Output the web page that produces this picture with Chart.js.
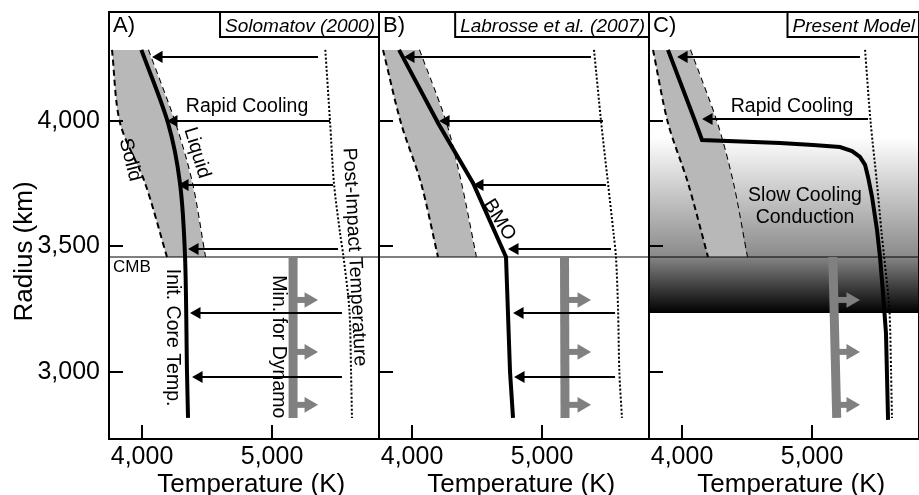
<!DOCTYPE html>
<html>
<head>
<meta charset="utf-8">
<title>Core cooling models</title>
<script src="https://cdn.jsdelivr.net/npm/chart.js@4.4.1/dist/chart.umd.min.js"></script>
<style>
  html, body { margin: 0; padding: 0; background: #fff; overflow: hidden; }
  #wrap { position: relative; width: 919px; height: 495px; overflow: hidden; }
  canvas { position: absolute; top: 0; }
</style>
</head>
<body>
<div id="wrap">
  <canvas id="panelA" width="381" height="495" style="left:0px"></canvas>
  <canvas id="panelB" width="274" height="495" style="left:377px"></canvas>
  <canvas id="panelC" width="274" height="495" style="left:647px"></canvas>
</div>
<script>
// axes
const xTicks = [4000, 5000];
const yTicks = [3000, 3500, 4000];
const xMin = 3746, xMax = 5823;
const yMin = 2733, yMax = 4434;
const cmbRadius = 3458;

// solidus / liquidus band (radius km -> temperature K)
const bandRadius = [4283, 3992, 3753, 3458];
const solidusA = [3769, 3831, 4023, 4192];
const liquidusA = [4046, 4254, 4385, 4485];
const solidusB = [3777, 3915, 4069, 4200];
const liquidusB = [4054, 4262, 4377, 4492];
const solidusC = [3777, 3892, 4046, 4200];
const liquidusC = [4062, 4269, 4392, 4500];

// post-impact temperature (dotted)
const postImpactRadius = [4283, 4000, 3750, 3554, 3458, 3250, 3000, 2817];
const postImpactA = [5410, 5446, 5477, 5523, 5550, 5595, 5608, 5615];
const postImpactB = [5400, 5454, 5508, 5550, 5569, 5585, 5595, 5615];
const postImpactC = [5408, 5450, 5500, 5535, 5555, 5595, 5608, 5615];

// temperature profiles (thick black)
const coreRadiusA = [4283, 3992, 3753, 3458, 3000, 2817];
const coreTempA = [3995, 4200, 4292, 4331, 4346, 4354];
const coreRadiusB = [4283, 3992, 3753, 3458, 3000, 2817];
const coreTempB = [3900, 4200, 4469, 4723, 4754, 4777];
const coreRadiusC = [4283, 4000, 3924, 3912, 3904, 3896, 3880, 3857, 3825, 3777, 3697, 3566, 3458, 3315, 3155, 2809];
const coreTempC = [3892, 4100, 4154, 4754, 5008, 5215, 5308, 5369, 5408, 5431, 5462, 5500, 5523, 5546, 5569, 5585];

// cooling arrows (tail -> head)
const arrowRadius = [4255, 4000, 3745, 3490, 3235, 2980];
const arrowTailA = [5354, 5446, 5469, 5508, 5538, 5538];
const arrowHeadA = [4131, 4246, 4331, 4408, 4423, 4439];
const arrowTailB = [5377, 5469, 5492, 5531, 5562, 5562];
const arrowHeadB = [3992, 4262, 4523, 4792, 4831, 4839];
const arrowRadiusC = [4255, 4008];
const arrowTailC = [5369, 5431];
const arrowHeadC = [4016, 4208];

// minimum for dynamo (grey)
const dynamoRadius = [3458, 2817];
const dynamoArrowRadius = [3287, 3080, 2869];
const dynamoBarA = [5162, 5162];
const dynamoBarB = [5173, 5177];
const dynamoBarC = [5160, 5190];
const dynamoStem = { A: 5162, B: 5175, C: 5178 };
const dynamoHead = { A: 5285, B: 5308, C: 5300 };

// slow cooling shading in panel C
const glowRadius = [3936, 3458];
const darkRadius = [3458, 3235];

const FONT = "'Liberation Sans', Arial, sans-serif";
const BAND = '#b8b8b8';
const GREY = '#808080';
Chart.defaults.font.family = FONT;

const pts = (xs, ys) => xs.map((x, i) => ({ x: x, y: ys[i] }));

function line(xs, ys, extra) {
  return Object.assign({
    data: pts(xs, ys), borderColor: '#000', borderWidth: 2,
    pointRadius: 0, fill: false, tension: 0, order: 3
  }, extra);
}

function arrows(tails, heads, radii, color, width, size, rot, order) {
  return radii.map((r, i) => ({
    data: [{ x: tails[i], y: r }, { x: heads[i], y: r }],
    borderColor: color, borderWidth: width, fill: false, tension: 0,
    pointRadius: [0, size], pointStyle: 'triangle', pointRotation: rot,
    pointBackgroundColor: color, pointBorderColor: color, pointBorderWidth: 0,
    order: order
  }));
}

function band(sol, liq) {
  return [
    line(sol, bandRadius, { borderDash: [6, 4], fill: '+1', backgroundColor: BAND, tension: 0.3, order: 8 }),
    line(liq, bandRadius, { borderDash: [6, 4], tension: 0.3, order: 8 })
  ];
}

function dynamo(bar, key) {
  const stems = dynamoArrowRadius.map(() => dynamoStem[key]);
  const heads = dynamoArrowRadius.map(() => dynamoHead[key]);
  return [line(bar, dynamoRadius, { borderColor: GREY, borderWidth: 9, borderCapStyle: 'butt' })]
    .concat(arrows(stems, heads, dynamoArrowRadius, GREY, 6, 9, 90, 3));
}

function vGradient(range, c0, c1) {
  return ctx => {
    const chart = ctx.chart;
    if (!chart.chartArea) return c1;
    const y = chart.scales.y;
    const g = chart.ctx.createLinearGradient(0, y.getPixelForValue(range[0]), 0, y.getPixelForValue(range[1]));
    g.addColorStop(0, c0);
    g.addColorStop(1, c1);
    return g;
  };
}

function shade(range, c0, c1) {
  return [
    line([xMax, xMax], range, { borderWidth: 0, fill: '+1', backgroundColor: vGradient(range, c0, c1), order: 10 }),
    line([xMin, xMin], range, { borderWidth: 0, order: 10 })
  ];
}

const cmbLine = () => line([xMin, xMax], [cmbRadius, cmbRadius], { borderWidth: 1, order: 4 });

function makeDecor(d) {
  return {
    id: 'panelDecor',
    afterDraw(chart) {
      const ctx = chart.ctx;
      const a = chart.chartArea;
      const sx = chart.scales.x, sy = chart.scales.y;
      ctx.save();
      ctx.fillStyle = '#000';
      ctx.strokeStyle = '#000';
      // annotations in data coordinates
      d.labels.forEach(l => {
        ctx.save();
        ctx.translate(sx.getPixelForValue(l.x), sy.getPixelForValue(l.y));
        ctx.rotate((l.angle || 0) * Math.PI / 180);
        ctx.font = (l.size || 19.5) + 'px ' + FONT;
        ctx.textAlign = l.align || 'center';
        ctx.textBaseline = 'middle';
        ctx.fillText(l.text, 0, 0);
        ctx.restore();
      });
      // frame
      ctx.lineWidth = 2;
      ctx.strokeRect(a.left, a.top, a.right - a.left, a.bottom - a.top);
      // inward tick marks
      xTicks.forEach(v => {
        const px = Math.round(sx.getPixelForValue(v));
        ctx.beginPath();
        ctx.moveTo(px, a.bottom + 1);
        ctx.lineTo(px, a.bottom - 14);
        ctx.stroke();
      });
      yTicks.forEach(v => {
        const py = Math.round(sy.getPixelForValue(v));
        ctx.beginPath();
        ctx.moveTo(a.left - 1, py);
        ctx.lineTo(a.left + 14, py);
        ctx.stroke();
      });
      // panel letter
      ctx.font = '22px ' + FONT;
      ctx.textAlign = 'left';
      ctx.textBaseline = 'alphabetic';
      ctx.fillText(d.letter, a.left + 4, a.top + 20);
      // source box
      ctx.font = 'italic 19px ' + FONT;
      const tw = ctx.measureText(d.source).width;
      const bx = a.right - tw - 9;
      ctx.fillStyle = '#fff';
      ctx.fillRect(bx, a.top, a.right - bx, 25);
      ctx.strokeRect(bx, a.top, a.right - bx, 25);
      ctx.fillStyle = '#000';
      ctx.textAlign = 'right';
      ctx.fillText(d.source, a.right - 4, a.top + 20);
      // axis titles
      ctx.font = '26px ' + FONT;
      ctx.textAlign = 'center';
      ctx.fillText('Temperature (K)', sx.getPixelForValue(4840), a.bottom + 53);
      if (d.yTitle) {
        ctx.save();
        ctx.translate(25, sy.getPixelForValue(3480));
        ctx.rotate(-Math.PI / 2);
        ctx.textBaseline = 'middle';
        ctx.fillText(d.yTitle, 0, 0);
        ctx.restore();
      }
      ctx.restore();
    }
  };
}

function noPadding(s) {
  s.paddingTop = 0;
  s.paddingBottom = 0;
  s.paddingLeft = 0;
  s.paddingRight = 0;
}

function panelChart(id, cfg) {
  const noGrid = { display: false, drawTicks: false };
  return new Chart(document.getElementById(id), {
    type: 'line',
    data: { datasets: cfg.datasets },
    options: {
      responsive: false,
      animation: false,
      events: [],
      indexAxis: 'y',
      layout: { autoPadding: false, padding: { top: 12, left: cfg.padLeft, right: 2, bottom: 0 } },
      plugins: { legend: { display: false }, tooltip: { enabled: false } },
      scales: {
        x: {
          type: 'linear', min: xMin, max: xMax,
          afterBuildTicks: s => { s.ticks = xTicks.map(v => ({ value: v })); },
          afterFit: s => { s.height = 56; noPadding(s); },
          grid: noGrid, border: { display: false },
          ticks: { padding: 3, color: '#000', font: { size: 25 }, maxRotation: 0,
            callback: v => v.toLocaleString('en-US') }
        },
        y: {
          type: 'linear', min: yMin, max: yMax,
          afterBuildTicks: s => { s.ticks = yTicks.map(v => ({ value: v })); },
          afterFit: s => { s.width = cfg.yWidth; noPadding(s); },
          grid: noGrid, border: { display: false },
          ticks: { display: cfg.yLabels, padding: 9, color: '#000', font: { size: 25 },
            callback: v => v.toLocaleString('en-US') }
        }
      }
    },
    plugins: [makeDecor(cfg.decor)]
  });
}

panelChart('panelA', {
  padLeft: 0, yWidth: 109, yLabels: true,
  datasets: [].concat(
    band(solidusA, liquidusA),
    [line(postImpactA, postImpactRadius, { borderDash: [2, 2], tension: 0.3, order: 5 })],
    [cmbLine()],
    dynamo(dynamoBarA, 'A'),
    arrows(arrowTailA, arrowHeadA, arrowRadius, '#000', 2, 7, 270, 2),
    [line(coreTempA, coreRadiusA, { borderWidth: 4, tension: 0.3, order: 1 })]
  ),
  decor: {
    letter: 'A)', source: 'Solomatov (2000)', yTitle: 'Radius (km)',
    labels: [
      { text: 'Rapid Cooling', x: 4808, y: 4056 },
      { text: 'Liquid', x: 4423, y: 3873, angle: 73 },
      { text: 'Solid', x: 3908, y: 3845, angle: 76 },
      { text: 'Post-Impact Temperature', x: 5635, y: 3458, angle: 87 },
      { text: 'Init. Core Temp.', x: 4231, y: 3137, angle: 90 },
      { text: 'Min. for Dynamo', x: 5046, y: 3100, angle: 90 },
      { text: 'CMB', x: 3777, y: 3418, align: 'left', size: 17 }
    ]
  }
});

panelChart('panelB', {
  padLeft: 2, yWidth: 0, yLabels: false,
  datasets: [].concat(
    band(solidusB, liquidusB),
    [line(postImpactB, postImpactRadius, { borderDash: [2, 2], tension: 0.3, order: 5 })],
    [cmbLine()],
    dynamo(dynamoBarB, 'B'),
    arrows(arrowTailB, arrowHeadB, arrowRadius, '#000', 2, 7, 270, 2),
    [line(coreTempB, coreRadiusB, { borderWidth: 4, order: 1 })]
  ),
  decor: {
    letter: 'B)', source: 'Labrosse et al. (2007)',
    labels: [
      { text: 'BMO', x: 4671, y: 3606, angle: 58 }
    ]
  }
});

panelChart('panelC', {
  padLeft: 2, yWidth: 0, yLabels: false,
  datasets: [].concat(
    shade(glowRadius, '#ffffff', '#8a8a8a'),
    shade(darkRadius, '#858585', '#000000'),
    band(solidusC, liquidusC),
    [line(postImpactC, postImpactRadius, { borderDash: [2, 2], tension: 0.3, order: 5 })],
    [cmbLine()],
    dynamo(dynamoBarC, 'C'),
    arrows(arrowTailC, arrowHeadC, arrowRadiusC, '#000', 2, 7, 270, 2),
    [line(coreTempC, coreRadiusC, { borderWidth: 4, order: 1 })]
  ),
  decor: {
    letter: 'C)', source: 'Present Model',
    labels: [
      { text: 'Rapid Cooling', x: 4846, y: 4056 },
      { text: 'Slow Cooling', x: 4946, y: 3701 },
      { text: 'Conduction', x: 4946, y: 3614 }
    ]
  }
});
</script>
</body>
</html>
